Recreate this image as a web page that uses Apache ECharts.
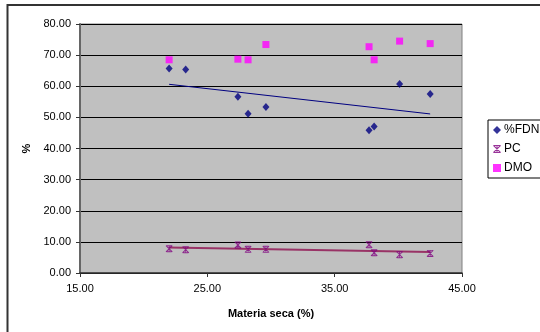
<!DOCTYPE html>
<html>
<head>
<meta charset="utf-8">
<script src="https://cdn.jsdelivr.net/npm/echarts@6/dist/echarts.min.js"></script>
<style>
  html, body { margin: 0; padding: 0; background: #fff; }
  #chart { width: 540px; height: 332px; }
</style>
</head>
<body>
<div id="chart"></div>
<script>
// Dry matter (%) of each sample and the three measured fractions (%)
const materiaSeca = [22.0, 23.3, 27.4, 28.2, 29.6, 37.7, 38.1, 40.1, 42.5];
const fdn = [65.7, 65.4, 56.6, 51.2, 53.3, 45.9, 47.1, 60.7, 57.5];
const pc = [7.8, 7.5, 9.0, 7.6, 7.6, 9.1, 6.5, 5.9, 6.3];
const dmo = [68.5, null, 68.7, 68.5, 73.4, 72.7, 68.5, 74.5, 73.7];

const seriesNames = ['%FDN', 'PC', 'DMO'];
const xTicks = [15, 45, 10];   // min, max, step
const yTicks = [0, 80, 10];

function pairs(xs, ys) {
  const out = [];
  xs.forEach((x, i) => { if (ys[i] != null) out.push([x, ys[i]]); });
  return out;
}

// Least-squares linear trend across the data range
function trend(xs, ys) {
  const p = pairs(xs, ys);
  const n = p.length;
  const mx = p.reduce((s, d) => s + d[0], 0) / n;
  const my = p.reduce((s, d) => s + d[1], 0) / n;
  let sxy = 0, sxx = 0;
  p.forEach(d => { sxy += (d[0] - mx) * (d[1] - my); sxx += (d[0] - mx) ** 2; });
  const b = sxy / sxx, a = my - b * mx;
  const x0 = Math.min(...p.map(d => d[0])), x1 = Math.max(...p.map(d => d[0]));
  return [[x0, a + b * x0], [x1, a + b * x1]];
}

// Filled asterisk marker: two diagonals, a centre stroke, top and bottom caps
const asterisk = 'path://M0,1L1,0L10,9L9,10Z M9,0L10,1L1,10L0,9Z ' +
  'M1.5,0L8.5,0L8.5,1.3L1.5,1.3Z M1.5,8.7L8.5,8.7L8.5,10L1.5,10Z M4.4,0L5.6,0L5.6,10L4.4,10Z';
const font = 'Liberation Sans, Arial, sans-serif';
const fmt = v => v.toFixed(2);

const chart = echarts.init(document.getElementById('chart'), null, { renderer: 'canvas' });
chart.setOption({
  backgroundColor: '#ffffff',
  animation: false,
  textStyle: { fontFamily: font },
  graphic: [{
    type: 'rect',
    shape: { x: 7.5, y: 5, width: 700, height: 500 },
    style: { fill: 'none', stroke: '#333333', lineWidth: 2 },
    silent: true
  }],
  grid: {
    left: 80, top: 24, width: 382, height: 249,
    show: true, backgroundColor: '#c0c0c0', borderColor: '#808080', borderWidth: 1
  },
  legend: {
    data: seriesNames,
    orient: 'vertical',
    left: 488, top: 120,
    padding: [4, 12, 4, 5],
    itemGap: 7,
    itemWidth: 8, itemHeight: 8,
    borderColor: '#000000', borderWidth: 1,
    backgroundColor: '#ffffff',
    textStyle: { fontFamily: font, fontSize: 12, color: '#000', padding: [0, 0, 0, -2] }
  },
  xAxis: {
    type: 'value',
    min: xTicks[0], max: xTicks[1], interval: xTicks[2],
    name: 'Materia seca (%)',
    nameLocation: 'middle', nameGap: 35,
    nameTextStyle: { fontFamily: font, fontSize: 11, fontWeight: 'bold', color: '#000' },
    axisLine: { show: true, onZero: false, lineStyle: { color: '#333', width: 1.5 } },
    axisTick: { show: true, inside: false, length: 4, lineStyle: { color: '#333' } },
    axisLabel: { formatter: fmt, fontSize: 11, color: '#000', margin: 10 },
    splitLine: { show: false }
  },
  yAxis: {
    type: 'value',
    min: yTicks[0], max: yTicks[1], interval: yTicks[2],
    name: '%',
    nameLocation: 'middle', nameGap: 47, nameRotate: 90,
    nameTextStyle: { fontFamily: font, fontSize: 11, fontWeight: 'bold', color: '#000' },
    axisLine: { show: true, lineStyle: { color: '#666', width: 2 } },
    axisTick: { show: true, inside: false, length: 4, lineStyle: { color: '#333' } },
    axisLabel: { formatter: fmt, fontSize: 11, color: '#000', margin: 9 },
    splitLine: { show: true, lineStyle: { color: '#000', width: 1 } }
  },
  series: [
    {
      name: '%FDN', type: 'scatter', data: pairs(materiaSeca, fdn),
      symbol: 'diamond', symbolSize: [7, 8],
      itemStyle: { color: '#000080' }, z: 5
    },
    {
      name: 'PC', type: 'scatter', data: pairs(materiaSeca, pc),
      symbol: asterisk, symbolSize: 7,
      itemStyle: { color: '#800080' }, z: 5
    },
    {
      name: 'DMO', type: 'scatter', data: pairs(materiaSeca, dmo),
      symbol: 'rect', symbolSize: 7,
      itemStyle: { color: '#ff00ff' }, z: 5
    },
    {
      name: 'trend %FDN', type: 'line', data: trend(materiaSeca, fdn),
      symbol: 'none', lineStyle: { color: '#000080', width: 1 }, z: 3, silent: true
    },
    {
      name: 'trend PC', type: 'line', data: trend(materiaSeca, pc),
      symbol: 'none', lineStyle: { color: '#993366', width: 2 }, z: 3, silent: true
    }
  ]
});
</script>
</body>
</html>
